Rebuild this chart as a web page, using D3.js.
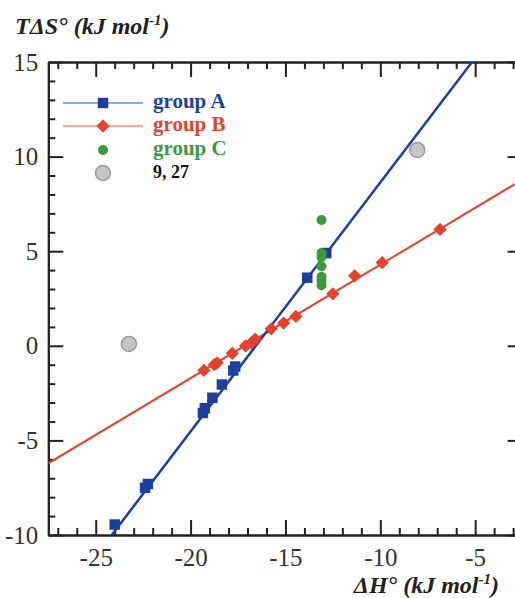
<!DOCTYPE html>
<html>
<head>
<meta charset="utf-8">
<script src="https://cdnjs.cloudflare.com/ajax/libs/d3/7.8.5/d3.min.js"></script>
<style>
  body { margin: 0; background: #fff; overflow: hidden; }
  svg { display: block; }
  .axis path, .axis line { stroke: #222; stroke-width: 2; }
  .title { font-family: 'Liberation Serif', serif; font-weight: bold; font-style: italic; font-size: 24px; fill: #222; }
  .legend text { font-family: 'Liberation Serif', serif; font-weight: bold; }
</style>
</head>
<body>
<script>
// [dH, TdS] pairs
const groupA = [[-24.0, -9.45], [-22.4, -7.5], [-22.25, -7.3], [-19.35, -3.55], [-19.25, -3.3],
                [-18.85, -2.75], [-18.35, -2.05], [-17.75, -1.3], [-17.65, -1.1],
                [-13.85, 3.6], [-12.85, 4.9]];
const groupB = [[-19.3, -1.3], [-18.75, -1.0], [-18.6, -0.9], [-17.8, -0.4], [-17.1, 0.0],
                [-16.8, 0.15], [-16.6, 0.35], [-15.75, 0.9], [-15.1, 1.2], [-14.45, 1.55],
                [-12.5, 2.75], [-11.35, 3.7], [-9.9, 4.4], [-6.85, 6.15]];
const groupC = [[-13.1, 6.65], [-13.1, 4.9], [-13.1, 4.7], [-13.1, 4.2], [-13.1, 3.65],
                [-13.1, 3.45], [-13.1, 3.2]];
const outliers = [[-23.25, 0.1], [-8.05, 10.35]];

// linear fits: [intercept, slope]
const fitA = [21.8, 1.3165];
const fitB = [10.29, 0.6];

const legendLabels = ['group A', 'group B', 'group C', '9, 27'];
const xTicks = [-25, -20, -15, -10, -5];
const yTicks = [-10, -5, 0, 5, 10, 15];
const xDomain = [-27.5, -2.5];
const yDomain = [-10, 15];

const w = 515,
      h = 598;

const blue = '#1d3f9e',
      red = '#e4432b',
      green = '#3b9a3a';

const svg = d3.select('body')
            .append('svg')
            .attr('width', w)
            .attr('height', h);

const xScale = d3.scaleLinear()
                .domain(xDomain)
                .range([48.3, 522.6]);
const yScale = d3.scaleLinear()
                .domain(yDomain)
                .range([535, 62]);

const pLeft = xScale.range()[0], pRight = xScale.range()[1];
const pTop = yScale.range()[1], pBottom = yScale.range()[0];

svg.append('clipPath')
    .attr('id', 'plot')
    .append('rect')
    .attr('x', pLeft)
    .attr('y', pTop)
    .attr('width', pRight - pLeft)
    .attr('height', pBottom - pTop);

// minor ticks every 1 unit, major every 5, all pointing inward
const xMinor = d3.range(-27, -2, 1).filter(v => v % 5 !== 0);
const yMinor = d3.range(-9, 15, 1).filter(v => v % 5 !== 0);

function addAxis(axisFn, scale, transform, major, minor, labels, pad) {
  svg.append('g')
      .attr('class', 'axis')
      .attr('transform', transform)
      .call(axisFn(scale).tickValues(minor).tickSizeInner(-7).tickSizeOuter(0).tickFormat(''));
  svg.append('g')
      .attr('class', 'axis')
      .attr('transform', transform)
      .call(axisFn(scale).tickValues(major).tickSizeInner(-15).tickSizeOuter(0)
            .tickPadding(pad).tickFormat(labels ? d => String(d) : ''))
      .attr('font-family', "'Liberation Serif', 'Times New Roman', serif")
      .attr('font-size', 25)
      .selectAll('text')
      .attr('fill', '#333');
}

addAxis(d3.axisBottom, xScale, 'translate(0,' + pBottom + ')', xTicks, xMinor, true, 13);
addAxis(d3.axisTop, xScale, 'translate(0,' + pTop + ')', xTicks, xMinor, false, 0);
addAxis(d3.axisLeft, yScale, 'translate(' + pLeft + ',0)', yTicks, yMinor, true, 10);
addAxis(d3.axisRight, yScale, 'translate(' + pRight + ',0)', yTicks, yMinor, false, 0);

// fit lines
const line = d3.line().x(d => xScale(d[0])).y(d => yScale(d[1]));
const fitLine = f => xDomain.map(x => [x, f[0] + f[1] * x]);

const plot = svg.append('g').attr('clip-path', 'url(#plot)');

plot.append('path')
    .attr('d', line(fitLine(fitB)))
    .attr('fill', 'none')
    .attr('stroke', red)
    .attr('stroke-width', 2);
plot.append('path')
    .attr('d', line(fitLine(fitA)))
    .attr('fill', 'none')
    .attr('stroke', blue)
    .attr('stroke-width', 2.5);

const square = d3.symbol().type(d3.symbolSquare).size(110);
const diamond = d3.symbol().type(d3.symbolSquare).size(88);

plot.selectAll('.outlier')
    .data(outliers)
    .enter()
    .append('circle')
    .attr('cx', d => xScale(d[0]))
    .attr('cy', d => yScale(d[1]))
    .attr('r', 7.5)
    .attr('fill', '#c6c6c6')
    .attr('stroke', '#9a9a9a')
    .attr('stroke-width', 1.5);

plot.selectAll('.ptB')
    .data(groupB)
    .enter()
    .append('path')
    .attr('d', diamond)
    .attr('transform', d => 'translate(' + xScale(d[0]) + ',' + yScale(d[1]) + ') rotate(45)')
    .attr('fill', red);

plot.selectAll('.ptA')
    .data(groupA)
    .enter()
    .append('path')
    .attr('d', square)
    .attr('transform', d => 'translate(' + xScale(d[0]) + ',' + yScale(d[1]) + ')')
    .attr('fill', blue);

plot.selectAll('.ptC')
    .data(groupC)
    .enter()
    .append('circle')
    .attr('cx', d => xScale(d[0]))
    .attr('cy', d => yScale(d[1]))
    .attr('r', 5)
    .attr('fill', green);

// legend
const legend = svg.append('g').attr('class', 'legend');
const ly = [103, 126, 150, 173];
const lColors = [blue, red, green, '#111'];

legend.append('line').attr('x1', 63).attr('x2', 143).attr('y1', ly[0]).attr('y2', ly[0])
    .attr('stroke', '#7588cc').attr('stroke-width', 1.5);
legend.append('line').attr('x1', 63).attr('x2', 143).attr('y1', ly[1]).attr('y2', ly[1])
    .attr('stroke', '#f08a78').attr('stroke-width', 1.5);
legend.append('path').attr('d', square).attr('transform', 'translate(103,' + ly[0] + ')').attr('fill', blue);
legend.append('path').attr('d', diamond).attr('transform', 'translate(103,' + ly[1] + ') rotate(45)').attr('fill', red);
legend.append('circle').attr('cx', 103).attr('cy', ly[2]).attr('r', 5).attr('fill', green);
legend.append('circle').attr('cx', 103).attr('cy', ly[3]).attr('r', 7.5)
    .attr('fill', '#c6c6c6').attr('stroke', '#9a9a9a').attr('stroke-width', 1.5);

legend.selectAll('text')
    .data(legendLabels)
    .enter()
    .append('text')
    .attr('x', 153)
    .attr('y', (d, i) => ly[i] + 5)
    .attr('fill', (d, i) => lColors[i])
    .style('font-size', (d, i) => i === 3 ? '18px' : '21px')
    .text(d => d);

// axis titles
const yTitle = svg.append('text').attr('class', 'title').attr('x', 15).attr('y', 34);
yTitle.append('tspan').text('TΔS° (kJ mol');
yTitle.append('tspan').attr('dy', -9).style('font-size', '15px').text('-1');
yTitle.append('tspan').attr('dy', 9).text(')');

const xTitle = svg.append('text').attr('class', 'title').attr('x', 499).attr('y', 593).attr('text-anchor', 'end');
xTitle.append('tspan').text('ΔH° (kJ mol');
xTitle.append('tspan').attr('dy', -9).style('font-size', '15px').text('-1');
xTitle.append('tspan').attr('dy', 9).text(')');
</script>
</body>
</html>
